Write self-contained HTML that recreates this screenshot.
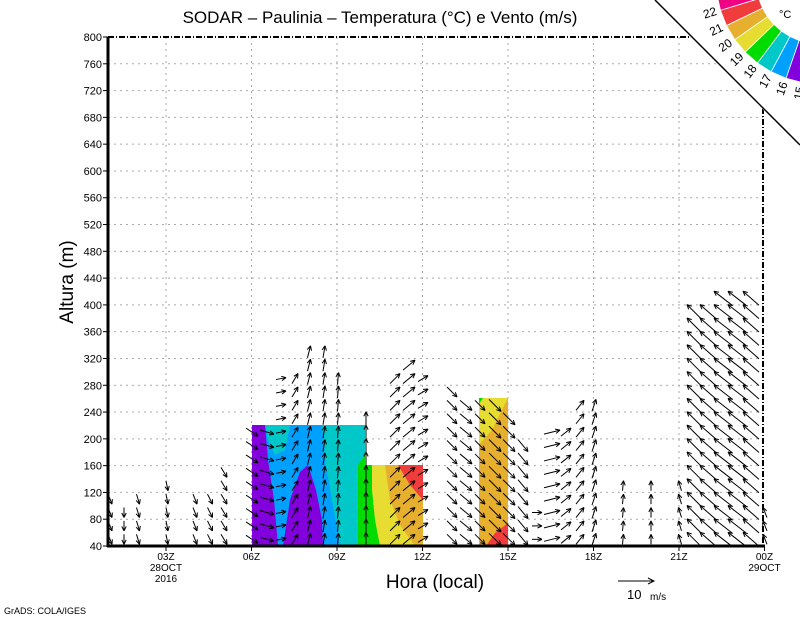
<!DOCTYPE html>
<html><head><meta charset="utf-8"><style>
html,body{margin:0;padding:0;background:#fff}
svg{display:block}
text{font-family:"Liberation Sans",sans-serif;fill:#000}
</style></head><body>
<svg id="s" width="800" height="618" viewBox="0 0 800 618" xmlns="http://www.w3.org/2000/svg">
<rect width="800" height="618" fill="#fff"/>
<g id="grid" stroke="#aaa" stroke-width="1" stroke-dasharray="2,4"></g>
<g id="fill">
  <rect x="252" y="425" width="113" height="121" fill="#00a0ff"/>
  <polygon points="265,425 290,425 285,450 275,455 268,440" fill="#00c8c8"/>
  <polygon points="322,425 365,425 365,546 340,546 332,500 325,460" fill="#00c8c8"/>
  <polygon points="252,425 265,425 268,460 274,500 278,546 252,546" fill="#8200dc"/>
  <polygon points="283,546 290,500 300,472 308,465 316,490 322,520 323,546" fill="#8200dc"/>
  <polygon points="358,465 365,455 365,465 423,465 423,546 358,546" fill="#00dc00"/>
  <polygon points="372,465 423,465 423,546 380,546 375,520 372,490" fill="#e6dc32"/>
  <polygon points="385,465 423,465 423,546 415,546 400,525 390,500" fill="#e6af2d"/>
  <polygon points="398,465 423,465 423,500 410,485" fill="#f03c3c"/>
  <rect x="479" y="398" width="29" height="148" fill="#e6af2d"/>
  <polygon points="479,398 508,398 492,430 479,445" fill="#e6dc32"/>
  <polygon points="479,398 483,398 479,404" fill="#00dc00"/>
  <polygon points="508,523 508,546 486,546 495,533" fill="#f03c3c"/>
</g>
<g id="arrows" stroke="#000" stroke-width="1" fill="none"></g>
<line x1="108" y1="37" x2="108" y2="547" stroke="#000" stroke-width="3"/>
<line x1="107" y1="546" x2="765" y2="546" stroke="#000" stroke-width="3"/>
<line x1="108" y1="37" x2="690" y2="37" stroke="#000" stroke-width="2" stroke-dasharray="6,2,1,2"/>
<line x1="763" y1="108" x2="763" y2="546" stroke="#000" stroke-width="2" stroke-dasharray="6,2,1,2"/>
<g id="ticks" stroke="#000" stroke-width="1"></g>
<g id="labels" font-size="11"></g>
<text x="380" y="23" font-size="17" text-anchor="middle">SODAR – Paulinia – Temperatura (°C) e Vento (m/s)</text>
<text transform="translate(73,282) rotate(-90)" font-size="19" text-anchor="middle">Altura (m)</text>
<text x="435" y="588" font-size="19" text-anchor="middle">Hora (local)</text>
<line x1="618" y1="581" x2="654" y2="581" stroke="#000"/>
<polyline points="648,578 654,581 648,584" stroke="#000" fill="none"/>
<text x="627" y="599" font-size="13">10</text><text x="650" y="600" font-size="10">m/s</text>
<text x="4" y="614" font-size="9">GrADS: COLA/IGES</text>
<polygon points="800,0 655,0 800,147" fill="#fff"/>
<g id="leg"></g>
<line x1="655" y1="0" x2="800" y2="145" stroke="#000" stroke-width="1.5"/>
<text x="779" y="18" font-size="11">°C</text>
</svg>
<script>
const NS="http://www.w3.org/2000/svg";
function el(p,t,a,txt){const e=document.createElementNS(NS,t);for(const k in a)e.setAttribute(k,a[k]);if(txt!==undefined)e.textContent=txt;document.getElementById(p).appendChild(e);return e;}
const Y=m=>546-(m-40)*509/760;
const X=h=>166+(h-3)*28.5;
for(let m=80;m<800;m+=40){el("grid","line",{x1:108,x2:763,y1:Y(m),y2:Y(m)});}
[3,6,9,12,15,18,21].forEach(h=>el("grid","line",{x1:X(h),x2:X(h),y1:37,y2:546}));
for(let m=40;m<=800;m+=40){el("ticks","line",{x1:103,x2:108,y1:Y(m),y2:Y(m)});el("labels","text",{x:102,y:Y(m)+4,"text-anchor":"end"},m);}
const xl=[[3,"03Z"],[6,"06Z"],[9,"09Z"],[12,"12Z"],[15,"15Z"],[18,"18Z"],[21,"21Z"],[24,"00Z"]];
xl.forEach(([h,t])=>{el("ticks","line",{x1:X(h),x2:X(h),y1:546,y2:551});el("labels","text",{x:X(h),y:560,"text-anchor":"middle","font-size":10},t);});
el("labels","text",{x:X(3),y:571,"text-anchor":"middle","font-size":10},"28OCT");
el("labels","text",{x:X(3),y:582,"text-anchor":"middle","font-size":10},"2016");
el("labels","text",{x:X(24),y:571,"text-anchor":"middle","font-size":10},"29OCT");
const cols=[[110,120,4,10],[124,100,0,10],[138,120,3,10],[167,140,2,10],[195,120,4,10],[210,120,5,10],[224,160,6,10],
[252,220,12,8],[267,220,14,4],[281,300,10,-2],[295,300,6,-10],[309,340,3,-12],[324,340,2,-12],[338,300,1,-12],
[366,240,0,-14],[395,300,10,-10],[409,320,12,-10],[423,300,10,-6],[452,280,10,10],[466,260,12,10],[480,260,10,10],
[495,260,12,12],[509,240,12,12],[523,200,10,12],[537,100,10,0],[552,220,16,-4],[566,220,10,-8],[580,260,8,-10],
[594,260,4,-12],[623,140,1,-10],[651,140,0,-10],[680,140,-3,-10],[694,400,-14,-14],[708,400,-16,-14],[723,420,-18,-14],
[737,420,-18,-14],[751,420,-16,-14],[765,100,-4,-10]];
cols.forEach(([x,top,dx,dy])=>{
 for(let m=50;m<=top;m+=20){
  const y=Y(m);const x1=x-dx/2,y1=y-dy/2,x2=x+dx/2,y2=y+dy/2;
  el("arrows","line",{x1,y1,x2,y2});
  const a=Math.atan2(dy,dx),L=5;
  [0.45,-0.45].forEach(d=>el("arrows","line",{x1:x2,y1:y2,x2:x2-L*Math.cos(a+d),y2:y2-L*Math.sin(a+d)}));
 }
});
const cx=820,cy=-20,r0=64,r1=104;
const cols2=["#f00082","#f03c3c","#e6af2d","#e6dc32","#00dc00","#00c8c8","#00a0ff","#8200dc","#a000c8"];
let a0=172;const step=9;
const lab=["22","21","20","19","18","17","16","15"];
cols2.forEach((c,i)=>{
 const s=(a0-i*step)*Math.PI/180,e=(a0-(i+1)*step)*Math.PI/180;
 const p=(r,a)=>(cx+r*Math.cos(a)).toFixed(1)+","+(cy+r*Math.sin(a)).toFixed(1);
 el("leg","polygon",{points:[p(r0,s),p(r1,s),p(r1,e),p(r0,e)].join(" "),fill:c,stroke:"#fff","stroke-width":0.8});
 if(i<8){const b=e;const lx=cx+(r1+11)*Math.cos(b),ly=cy+(r1+11)*Math.sin(b);
  const rot=(b*180/Math.PI)-180;
  el("leg","text",{x:lx,y:ly,"font-size":12,"text-anchor":"middle","dominant-baseline":"middle",transform:`rotate(${rot.toFixed(1)} ${lx.toFixed(1)} ${ly.toFixed(1)})`},lab[i]);}
});
</script>
</body></html>
